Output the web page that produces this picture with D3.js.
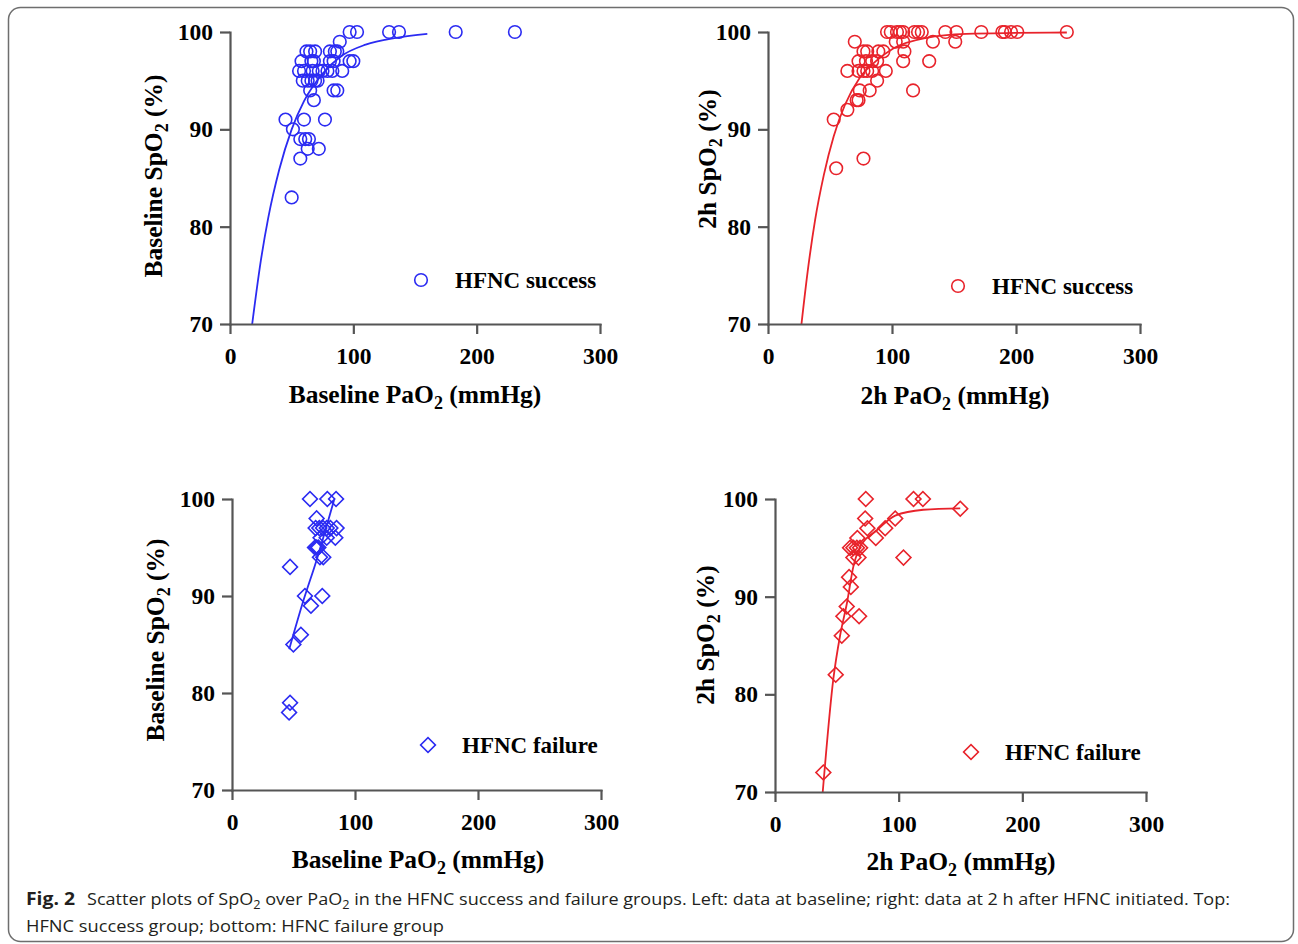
<!DOCTYPE html>
<html>
<head>
<meta charset="utf-8">
<script src="https://cdn.jsdelivr.net/npm/d3@7"></script>
<style>
    body { margin: 0; background: #fff; }
    .tick text { font-family: "Liberation Serif", "Times New Roman", serif; font-weight: bold; font-size: 23.5px; fill: #000; }
    .axis path, .axis line { stroke: #555; stroke-width: 2.2px; }
    .title { font-family: "Liberation Serif", "Times New Roman", serif; font-weight: bold; font-size: 25.5px; fill: #000; }
    .legend { font-family: "Liberation Serif", "Times New Roman", serif; font-weight: bold; font-size: 23px; fill: #000; }
    .caption { font-family: "Open Sans", "Noto Sans", sans-serif; font-size: 17px; fill: #231f20; }
</style>
</head>
<body>
<script>
// Axis ticks shared by all four panels
var xTicks = [0, 100, 200, 300],
    yTicks = [70, 80, 90, 100];

// HFNC success, baseline [PaO2, SpO2]
var successBase = [
    [97, 100], [103, 100], [129, 100], [137, 100], [183, 100], [231, 100],
    [89, 99],
    [62, 98], [65, 98], [69, 98], [81, 98], [85, 98], [87, 98],
    [58, 97], [66, 97], [68, 97], [81, 97], [84, 97], [97, 97], [100, 97],
    [56, 96], [60, 96], [67, 96], [72, 96], [75, 96], [79, 96], [83, 96], [91, 96],
    [59, 95], [63, 95], [66, 95], [69, 95], [71, 95],
    [65, 94], [84, 94], [87, 94],
    [68, 93],
    [45, 91], [60, 91], [77, 91],
    [51, 90],
    [57, 89], [61, 89], [64, 89],
    [63, 88], [72, 88],
    [57, 87],
    [50, 83]
];
var successBaseFit = [[18, 70], [25, 76.5], [31, 80.9], [40, 85.9], [50, 90], [60, 92.9],
    [75, 95.7], [90, 97.5], [110, 98.7], [135, 99.4], [160, 99.8]];

// HFNC success, 2 h
var success2h = [
    [96, 100], [99, 100], [104, 100], [106.5, 100], [109, 100], [118, 100], [121, 100], [124, 100],
    [143, 100], [152, 100], [172, 100], [189, 100], [191, 100], [196, 100], [201, 100], [241, 100],
    [70, 99], [103, 99], [109, 99], [133, 99], [151, 99],
    [77, 98], [80, 98], [89, 98], [93, 98], [110, 98],
    [73, 97], [79, 97], [84, 97], [88, 97], [109, 97], [130, 97],
    [64, 96], [73, 96], [77, 96], [80, 96], [84, 96], [95, 96],
    [88, 95],
    [74, 94], [82, 94], [117, 94],
    [71.5, 93], [73, 93],
    [64, 92],
    [53, 91],
    [77, 87],
    [55, 86]
];
var success2hFit = [[27, 70], [32, 75.4], [38, 80.7], [45, 85.3], [53, 89.3], [62, 92.5], [74, 95.3],
    [87, 97], [101, 98.3], [128, 99.4], [160, 99.8], [200, 99.9], [241, 99.95]];

// HFNC failure, baseline
var failureBase = [
    [63.4, 100], [77.5, 100], [84.6, 100],
    [68.8, 98],
    [68, 97], [71, 97], [74, 97], [77, 97], [80, 97], [85, 97],
    [72, 96], [77, 96], [84, 96],
    [67.5, 95], [68.8, 95], [70.2, 95],
    [71.5, 94], [74.2, 94],
    [47.2, 93],
    [59.3, 90], [73.4, 90],
    [64.2, 89],
    [56, 86],
    [49.9, 85],
    [47.2, 79], [46.4, 78]
];
var failureBaseFit = [[46.5, 84.5], [58, 89.5], [69, 93.8], [76, 96.8], [83, 99.9]];

// HFNC failure, 2 h
var failure2h = [
    [73.4, 100], [112, 100], [119.6, 100],
    [149.8, 99],
    [72.9, 98], [97.2, 98],
    [74.7, 97], [89.1, 97],
    [81.5, 96], [66.6, 96],
    [60.7, 95], [63.4, 95], [66.2, 95], [68.8, 95],
    [63.4, 94], [67.5, 94], [103.9, 94],
    [59.9, 92], [61.3, 91],
    [58, 89], [55.3, 88], [68, 88],
    [54, 86], [49.1, 82], [39.1, 72]
];
var failure2hFit = [[38.6, 70], [47.2, 81.6], [52.6, 86], [58.1, 89.3], [63.4, 93.1], [68.8, 95.1],
    [82.3, 96.8], [97.2, 98.3], [120, 98.9], [149.8, 99.05]];

var blue = "#2b2bf2",
    red = "#e8232b";

var width = 1298,
    height = 944;

var svg = d3.select("body")
    .append("svg")
    .attr("width", width)
    .attr("height", height);

// Frame round the figure
svg.append("rect")
    .attr("x", 8.5)
    .attr("y", 7.5)
    .attr("width", 1285)
    .attr("height", 934)
    .attr("rx", 12)
    .attr("fill", "none")
    .attr("stroke", "#6e6e6e")
    .attr("stroke-width", 1.5);

var panels = [
    { data: successBase, fit: successBaseFit, color: blue, shape: "circle", prefix: "Baseline",
      xr: [230, 600], yr: [324, 32], xt: [415, 403], yt: [162, 176], leg: [421, 280], label: "HFNC success" },
    { data: success2h, fit: success2hFit, color: red, shape: "circle", prefix: "2h",
      xr: [768, 1140], yr: [324, 32], xt: [955, 404], yt: [716, 159], leg: [958, 286], label: "HFNC success" },
    { data: failureBase, fit: failureBaseFit, color: blue, shape: "diamond", prefix: "Baseline",
      xr: [232, 601], yr: [790, 499], xt: [418, 868], yt: [164, 640], leg: [428, 745], label: "HFNC failure" },
    { data: failure2h, fit: failure2hFit, color: red, shape: "diamond", prefix: "2h",
      xr: [775, 1146], yr: [792, 499], xt: [961, 870], yt: [714, 635], leg: [971, 752], label: "HFNC failure" }
];

var diamond = d3.symbol().type(d3.symbolSquare).size(110);

function drawMarker(sel, shape, color) {
    if (shape === "circle") {
        sel.append("circle")
            .attr("r", 6.3)
            .attr("fill", "none")
            .attr("stroke", color)
            .attr("stroke-width", 1.6);
    } else {
        sel.append("path")
            .attr("d", diamond)
            .attr("transform", "rotate(45)")
            .attr("fill", "none")
            .attr("stroke", color)
            .attr("stroke-width", 1.6);
    }
}

// Title with a subscript 2 after "O"
function titleText(g, x, y, parts, rotate) {
    var t = g.append("text")
        .attr("class", "title")
        .attr("text-anchor", "middle")
        .attr("transform", "translate(" + x + "," + y + ")" + (rotate ? " rotate(-90)" : ""));
    t.append("tspan").text(parts[0]);
    t.append("tspan").attr("font-size", "18px").attr("dy", 6).text("2");
    t.append("tspan").attr("dy", -6).text(parts[1]);
}

panels.forEach(function(p) {
    var x = d3.scaleLinear().domain([0, 300]).range(p.xr),
        y = d3.scaleLinear().domain([70, 100]).range(p.yr);

    var g = svg.append("g");

    // Fitted curve
    var line = d3.line()
        .x(function(d) { return x(d[0]); })
        .y(function(d) { return y(d[1]); })
        .curve(d3.curveMonotoneX);

    g.append("path")
        .datum(p.fit)
        .attr("d", line)
        .attr("fill", "none")
        .attr("stroke", p.color)
        .attr("stroke-width", 1.8);

    // Points
    g.selectAll(".pt")
        .data(p.data)
        .enter()
        .append("g")
        .attr("class", "pt")
        .attr("transform", function(d) { return "translate(" + x(d[0]) + "," + y(d[1]) + ")"; })
        .each(function() { drawMarker(d3.select(this), p.shape, p.color); });

    // Axes
    g.append("g")
        .attr("class", "axis")
        .attr("transform", "translate(0," + p.yr[0] + ")")
        .call(d3.axisBottom(x).tickValues(xTicks).tickSize(10).tickPadding(13).tickSizeOuter(0));

    g.append("g")
        .attr("class", "axis")
        .attr("transform", "translate(" + p.xr[0] + ",0)")
        .call(d3.axisLeft(y).tickValues(yTicks).tickSize(10).tickPadding(7).tickSizeOuter(0));

    g.selectAll(".axis .domain").attr("stroke-linecap", "square");

    // Axis titles
    titleText(g, p.xt[0], p.xt[1], [p.prefix + " PaO", " (mmHg)"], false);
    titleText(g, p.yt[0], p.yt[1], [p.prefix + " SpO", " (%)"], true);

    // Legend
    var leg = g.append("g").attr("transform", "translate(" + p.leg[0] + "," + p.leg[1] + ")");
    drawMarker(leg, p.shape, p.color);
    leg.append("text")
        .attr("class", "legend")
        .attr("x", 34)
        .attr("y", 8)
        .text(p.label);
});

// Caption
svg.append("text")
    .attr("class", "caption")
    .attr("x", 26)
    .attr("y", 905)
    .attr("font-weight", "bold")
    .attr("font-size", "19px")
    .attr("textLength", 49)
    .attr("lengthAdjust", "spacingAndGlyphs")
    .text("Fig. 2");

var cap1 = svg.append("text")
    .attr("class", "caption")
    .attr("x", 87)
    .attr("y", 905)
    .attr("textLength", 1143)
    .attr("lengthAdjust", "spacingAndGlyphs");
cap1.append("tspan").text("Scatter plots of SpO");
cap1.append("tspan").attr("font-size", "12px").attr("dy", 4).text("2");
cap1.append("tspan").attr("dy", -4).text(" over PaO");
cap1.append("tspan").attr("font-size", "12px").attr("dy", 4).text("2");
cap1.append("tspan").attr("dy", -4).text(" in the HFNC success and failure groups. Left: data at baseline; right: data at 2 h after HFNC initiated. Top:");

svg.append("text")
    .attr("class", "caption")
    .attr("x", 26)
    .attr("y", 932)
    .attr("textLength", 418)
    .attr("lengthAdjust", "spacingAndGlyphs")
    .text("HFNC success group; bottom: HFNC failure group");
</script>
</body>
</html>
